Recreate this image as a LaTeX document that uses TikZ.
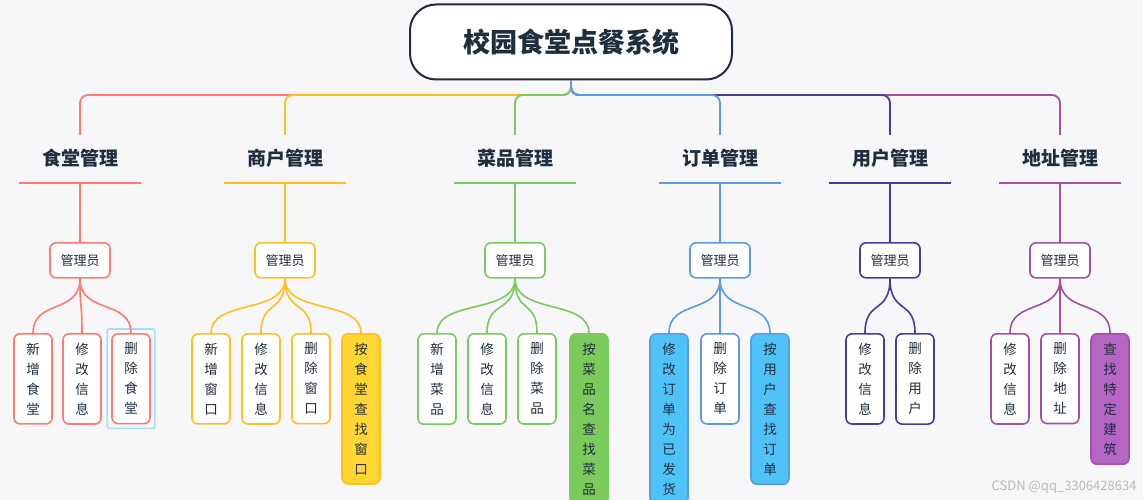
\documentclass[tikz,border=0pt]{standalone}
\usepackage{fontspec}
\setmainfont{Noto Sans CJK SC}
\definecolor{bg}{HTML}{F7F7FA}
\definecolor{txt}{HTML}{1F2D3D}
\definecolor{cA}{HTML}{FF7B6E}
\definecolor{cB}{HTML}{FFBF1F}
\definecolor{cC}{HTML}{7CC95C}
\definecolor{cD}{HTML}{5B9BE6}
\definecolor{cE}{HTML}{4B3A9E}
\definecolor{cF}{HTML}{A4509C}
\definecolor{fB}{HTML}{FFD633}
\definecolor{fD}{HTML}{4FC3F7}
\definecolor{fF}{HTML}{B565C4}
\definecolor{sel}{HTML}{A8DDF8}
\begin{document}
\begin{tikzpicture}[x=1pt,y=-1pt,
  conn/.style={line width=1.8pt,rounded corners=8pt},
  title/.style={font=\fontsize{19}{22}\selectfont\bfseries,text=txt},
  admin/.style={draw,line width=1.6pt,rounded corners=6pt,fill=white,minimum width=60pt,minimum height=35pt,anchor=north,font=\fontsize{13}{15}\selectfont,text=txt,inner sep=3pt},
  leaf/.style={draw,line width=1.6pt,rounded corners=6pt,fill=white,minimum width=38pt,text width=14pt,align=center,anchor=north,inner xsep=2pt,inner ysep=9pt,font=\fontsize{13.5}{20}\selectfont,text=txt},
  curve/.style={line width=1.6pt}]
\fill[bg] (0,0) rectangle (1143,500);
\useasboundingbox (0,0) rectangle (1143,500);
\node[draw=txt,line width=2pt,rounded corners=26pt,fill=white,minimum width=322pt,minimum height=75pt,font=\fontsize{27}{30}\selectfont\bfseries,text=txt] (root) at (571,42) {校园食堂点餐系统};
\foreach \bx/\col in {80/cA,1060/cF,285/cB,890/cE,515/cC,720/cD}{
  \coordinate (t\bx) at (\bx,135);
  \draw[conn,\col] (root.south) |- (\bx,95) -- (t\bx);
}
\foreach \bx/\col/\name/\nm in {80/cA/食堂管理/a,285/cB/商户管理/b,515/cC/菜品管理/c,720/cD/订单管理/d,890/cE/用户管理/e,1060/cF/地址管理/f}{
  \node[title] (h\nm) at (\bx,158) {\name};
  \draw[line width=1.8pt,\col] (\bx-61,183) coordinate (ul\nm) -- (\bx+61,183) coordinate (ur\nm);
  \node[admin,draw=\col] (m\nm) at (\bx,242) {管理员};
  \draw[line width=1.8pt,\col] (\bx,183) -- (m\nm.north);
}
\newcommand\leafnode[5]{%
  \node[leaf,draw=#3,fill=#4] (#1) at (#2,333) {#5};
}
\leafnode{a1}{33}{cA}{white}{新\\增\\食\\堂}
\leafnode{a2}{82}{cA}{white}{修\\改\\信\\息}
\leafnode{a3}{131}{cA}{white}{删\\除\\食\\堂}
\draw[line width=1.6pt,sel,rounded corners=2pt] ([shift={(-4pt,4pt)}]a3.north west) rectangle ([shift={(4pt,-4pt)}]a3.south east);
\leafnode{b1}{211}{cB}{white}{新\\增\\窗\\口}
\leafnode{b2}{261}{cB}{white}{修\\改\\信\\息}
\leafnode{b3}{311}{cB}{white}{删\\除\\窗\\口}
\leafnode{b4}{361}{cB}{fB}{按\\食\\堂\\查\\找\\窗\\口}
\leafnode{c1}{437}{cC}{white}{新\\增\\菜\\品}
\leafnode{c2}{487}{cC}{white}{修\\改\\信\\息}
\leafnode{c3}{537}{cC}{white}{删\\除\\菜\\品}
\leafnode{c4}{589}{cC}{cC}{按\\菜\\品\\名\\查\\找\\菜\\品}
\leafnode{d1}{669}{cD}{fD}{修\\改\\订\\单\\为\\已\\发\\货}
\leafnode{d2}{720}{cD}{white}{删\\除\\订\\单}
\leafnode{d3}{770}{cD}{fD}{按\\用\\户\\查\\找\\订\\单}
\leafnode{e1}{865}{cE}{white}{修\\改\\信\\息}
\leafnode{e2}{915}{cE}{white}{删\\除\\用\\户}
\leafnode{f1}{1010}{cF}{white}{修\\改\\信\\息}
\leafnode{f2}{1060}{cF}{white}{删\\除\\地\\址}
\leafnode{f3}{1110}{cF}{fF}{查\\找\\特\\定\\建\\筑}
\foreach \m/\col/\list in {a/cA/{a1,a2,a3},b/cB/{b1,b2,b3,b4},c/cC/{c1,c2,c3,c4},d/cD/{d1,d2,d3},e/cE/{e1,e2},f/cF/{f1,f2,f3}}{
  \foreach \l in \list {
    \draw[curve,\col] (m\m.south) .. controls +(0,36) and +(0,-34) .. (\l.north);
  }
}
\node[anchor=east,text=gray!55,font=\fontsize{13}{15}\selectfont] (wm) at (1140,487) {CSDN @qq\_3306428634};
\end{tikzpicture}
\end{document}
